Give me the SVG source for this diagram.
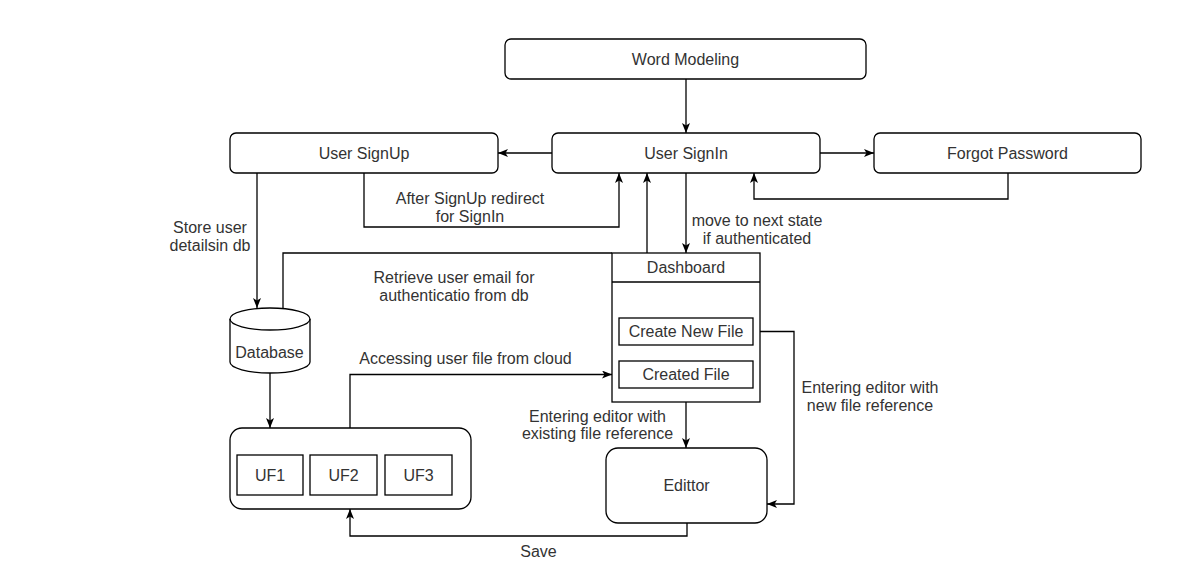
<svg xmlns="http://www.w3.org/2000/svg" width="1192" height="586" viewBox="0 0 1192 586">
<defs>
<marker id="arr" viewBox="0 0 10 8" refX="10" refY="4" markerWidth="10" markerHeight="8" markerUnits="userSpaceOnUse" orient="auto">
<path d="M0,0 L10,4 L0,8 L2.5,4 Z" fill="#000"/>
</marker>
</defs>
<style>
.n{fill:#fff;stroke:#000;stroke-width:1.3}
.t{font-family:"Liberation Sans",Arial,Helvetica,sans-serif;font-size:16px;fill:#333;text-anchor:middle}
.c{fill:none;stroke:#000;stroke-width:1.3}
.a{marker-end:url(#arr)}
</style>
<rect width="1192" height="586" fill="#fff"/>
<g id="connectors">
<path class="c a" d="M686,79 V133"/>
<path class="c a" d="M552,153 H498"/>
<path class="c a" d="M820,153 H874"/>
<path class="c a" d="M1008,173 V199 H754 V173"/>
<path class="c a" d="M364,173 V227 H619 V173"/>
<path class="c a" d="M257,173 V308"/>
<path class="c a" d="M686,173 V253"/>
<path class="c a" d="M647,253 V173"/>
<path class="c" d="M283,309 V253 H612"/>
<path class="c a" d="M270,373 V428"/>
<path class="c a" d="M350,428 V374.5 H612"/>
<path class="c a" d="M686,388 V448"/>
<path class="c a" d="M753,331.5 H794 V504 H767"/>
<path class="c a" d="M687,523 V536 H350 V509"/>
<text class="t" x="210" y="233">Store user</text>
<text class="t" x="210" y="251">detailsin db</text>
<text class="t" x="470" y="204">After SignUp redirect</text>
<text class="t" x="470" y="222">for SignIn</text>
<text class="t" x="757" y="226">move to next state</text>
<text class="t" x="757" y="244">if authenticated</text>
<text class="t" x="454" y="283">Retrieve user email for</text>
<text class="t" x="454" y="301">authenticatio from db</text>
<text class="t" x="465.5" y="364">Accessing user file from cloud</text>
<text class="t" x="870" y="393">Entering editor with</text>
<text class="t" x="870" y="411">new file reference</text>
<text class="t" x="597.5" y="421.5">Entering editor with</text>
<text class="t" x="597.5" y="439">existing file reference</text>
<text class="t" x="538.5" y="557">Save</text>
</g>
<g id="word-modeling">
<rect class="n" x="505" y="39" width="361" height="40" rx="6"/>
<text class="t" x="685.5" y="64.5">Word Modeling</text>
</g>
<g id="user-signup">
<rect class="n" x="230" y="133" width="268" height="40" rx="6"/>
<text class="t" x="364" y="158.5">User SignUp</text>
</g>
<g id="user-signin">
<rect class="n" x="552" y="133" width="268" height="40" rx="6"/>
<text class="t" x="686" y="158.5">User SignIn</text>
</g>
<g id="forgot-password">
<rect class="n" x="874" y="133" width="267" height="40" rx="6"/>
<text class="t" x="1007.5" y="158.5">Forgot Password</text>
</g>
<g id="dashboard">
<rect class="n" x="612" y="253" width="148" height="149"/>
<line class="c" x1="612" y1="282" x2="760" y2="282"/>
<text class="t" x="686" y="273">Dashboard</text>
</g>
<g id="create-new-file">
<rect class="n" x="619" y="318" width="134" height="27"/>
<text class="t" x="686" y="337">Create New File</text>
</g>
<g id="created-file">
<rect class="n" x="619" y="361" width="134" height="27"/>
<text class="t" x="686" y="380">Created File</text>
</g>
<g id="database">
<path class="n" d="M230,319 A40,11 0 0 1 310,319 V362 A40,11 0 0 1 230,362 Z"/>
<path class="c" d="M230,319 A40,11 0 0 0 310,319"/>
<text class="t" x="269.5" y="358">Database</text>
</g>
<g id="user-files">
<rect class="n" x="230" y="428" width="241" height="81" rx="12"/>
</g>
<g id="uf1">
<rect class="n" x="237" y="455" width="66" height="40"/>
<text class="t" x="270" y="481">UF1</text>
</g>
<g id="uf2">
<rect class="n" x="310" y="455" width="67" height="40"/>
<text class="t" x="343.5" y="481">UF2</text>
</g>
<g id="uf3">
<rect class="n" x="385" y="455" width="67" height="40"/>
<text class="t" x="418.5" y="481">UF3</text>
</g>
<g id="edittor">
<rect class="n" x="606" y="448" width="161" height="75" rx="12"/>
<text class="t" x="686.5" y="491">Edittor</text>
</g>
</svg>
